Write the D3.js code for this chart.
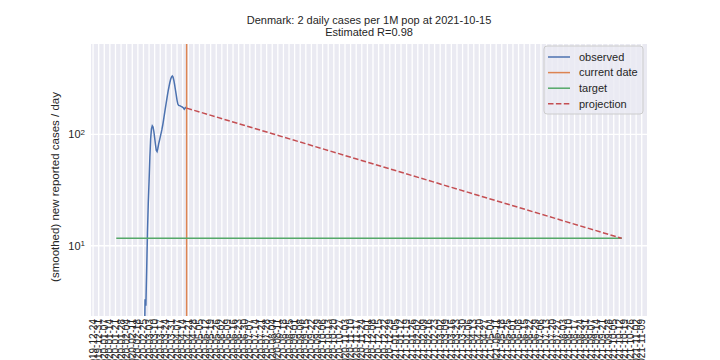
<!DOCTYPE html>
<html><head><meta charset="utf-8">
<script src="https://cdn.jsdelivr.net/npm/d3@7"></script>
<style>
body{margin:0;background:#fff}
text{font-family:"Liberation Sans",Arial,Helvetica,sans-serif;fill:#262626}
</style>
</head><body><svg id="c" width="720" height="360"></svg>
<script>
// ---- data ----
const observedStart = "2020-02-26"; // daily values from this date
const observedValues = [1.0, 3.3, 2.9, 6, 13, 24, 38, 62, 92, 112, 119, 116, 106, 93, 81, 72, 70, 75, 82, 88, 95, 102, 110, 120, 133, 148, 165, 183, 203, 225, 248, 270, 292, 312, 327, 334, 326, 305, 278, 250, 225, 202, 187, 182, 181, 180, 178, 177, 175, 172, 168, 172, 174, 172];
const currentDate = "2020-04-19";
const targetDates = ["2020-01-22", "2021-10-15"];
const targetValues = [11.66, 11.66];
const projectionDates = ["2020-04-19", "2021-10-15"];
const projectionValues = [172, 11.66];
const yTickValues = [10, 100];
const legendLabels = ["observed", "current date", "target", "projection"];
const titleLines = ["Denmark: 2 daily cases per 1M pop at 2021-10-15", "Estimated R=0.98"];
const yLabel = "(smoothed) new reported cases / day";

// ---- layout ----
const W = 720, H = 360;
const L = 91, R = 647, T = 44, B = 316;
const colors = {obs: "#4C72B0", cur: "#DD8452", tgt: "#55A868", proj: "#C44E52"};
const parse = d3.utcParse("%Y-%m-%d");
const fmt = d3.utcFormat("%Y-%m-%d");

const obs = observedValues.map((v, i) => ({d: d3.utcDay.offset(parse(observedStart), i), v}));
const tgt = targetDates.map((d, i) => ({d: parse(d), v: targetValues[i]}));
const proj = projectionDates.map((d, i) => ({d: parse(d), v: projectionValues[i]}));

const d0 = parse(targetDates[0]), d1 = parse(targetDates[1]);
const span = d1 - d0;
const x = d3.scaleUtc().domain([new Date(+d0 - 0.05 * span), new Date(+d1 + 0.05 * span)]).range([L, R]);
const y = d3.scaleLog().domain([2.34, 647]).range([B, T]);

const svg = d3.select("#c");
svg.append("rect").attr("x", L).attr("y", T).attr("width", R - L).attr("height", B - T).attr("fill", "#EAEAF2");

svg.append("defs").append("clipPath").attr("id", "clip")
  .append("rect").attr("x", L).attr("y", T).attr("width", R - L).attr("height", B - T);

// grid + ticks
const xTicks = d3.utcTuesday.range(x.domain()[0], x.domain()[1]);
const gx = svg.append("g");
gx.selectAll("line").data(xTicks).join("line")
  .attr("x1", d => x(d)).attr("x2", d => x(d)).attr("y1", T).attr("y2", B)
  .attr("stroke", "#fff").attr("stroke-width", 1.3);
gx.selectAll("text").data(xTicks).join("text")
  .attr("transform", d => `translate(${x(d)},${B + 3}) rotate(-90)`)
  .attr("text-anchor", "end").attr("dy", "0.35em")
  .attr("font-size", 10).text(d => fmt(d));

const gy = svg.append("g");
gy.selectAll("line").data(yTickValues).join("line")
  .attr("x1", L).attr("x2", R).attr("y1", d => y(d)).attr("y2", d => y(d))
  .attr("stroke", "#fff").attr("stroke-width", 1.3);
const yt = gy.selectAll("text").data(yTickValues).join("text")
  .attr("x", L - 6).attr("y", d => y(d)).attr("dy", "0.35em")
  .attr("text-anchor", "end").attr("font-size", 11);
yt.append("tspan").text("10");
yt.append("tspan").attr("dy", "-0.45em").attr("font-size", 8).text(d => Math.round(Math.log10(d)));

// lines
const line = d3.line().x(d => x(d.d)).y(d => y(Math.max(d.v, 0.5)));
const gp = svg.append("g").attr("clip-path", "url(#clip)");
gp.append("path").datum(obs).attr("d", line).attr("fill", "none")
  .attr("stroke", colors.obs).attr("stroke-width", 1.5);
gp.append("line").attr("x1", x(parse(currentDate))).attr("x2", x(parse(currentDate)))
  .attr("y1", T).attr("y2", B).attr("stroke", colors.cur).attr("stroke-width", 1.5);
gp.append("path").datum(tgt).attr("d", line).attr("fill", "none")
  .attr("stroke", colors.tgt).attr("stroke-width", 1.5);
gp.append("path").datum(proj).attr("d", line).attr("fill", "none")
  .attr("stroke", colors.proj).attr("stroke-width", 1.5).attr("stroke-dasharray", "5.5,2.4");

// title
svg.append("text").attr("x", (L + R) / 2).attr("y", 24).attr("text-anchor", "middle")
  .attr("font-size", 11).text(titleLines[0]);
svg.append("text").attr("x", (L + R) / 2).attr("y", 36).attr("text-anchor", "middle")
  .attr("font-size", 11).text(titleLines[1]);

// y label
svg.append("text").attr("transform", `translate(59,${(T + B) / 2 + 7}) rotate(-90)`)
  .attr("text-anchor", "middle").attr("font-size", 11.5).text(yLabel);

// legend
const lg = svg.append("g");
lg.append("rect").attr("x", 544).attr("y", 46).attr("width", 99).attr("height", 68).attr("rx", 3)
  .attr("fill", "#EAEAF2").attr("fill-opacity", 0.8).attr("stroke", "#cccccc").attr("stroke-width", 1);
const lcol = [colors.obs, colors.cur, colors.tgt, colors.proj];
legendLabels.forEach((lab, i) => {
  const yy = 57 + i * 15.6;
  lg.append("line").attr("x1", 548).attr("x2", 570).attr("y1", yy).attr("y2", yy)
    .attr("stroke", lcol[i]).attr("stroke-width", 1.5)
    .attr("stroke-dasharray", i === 3 ? "5.5,2.4" : null);
  lg.append("text").attr("x", 579).attr("y", yy).attr("dy", "0.35em").attr("font-size", 11).text(lab);
});
</script></body></html>
